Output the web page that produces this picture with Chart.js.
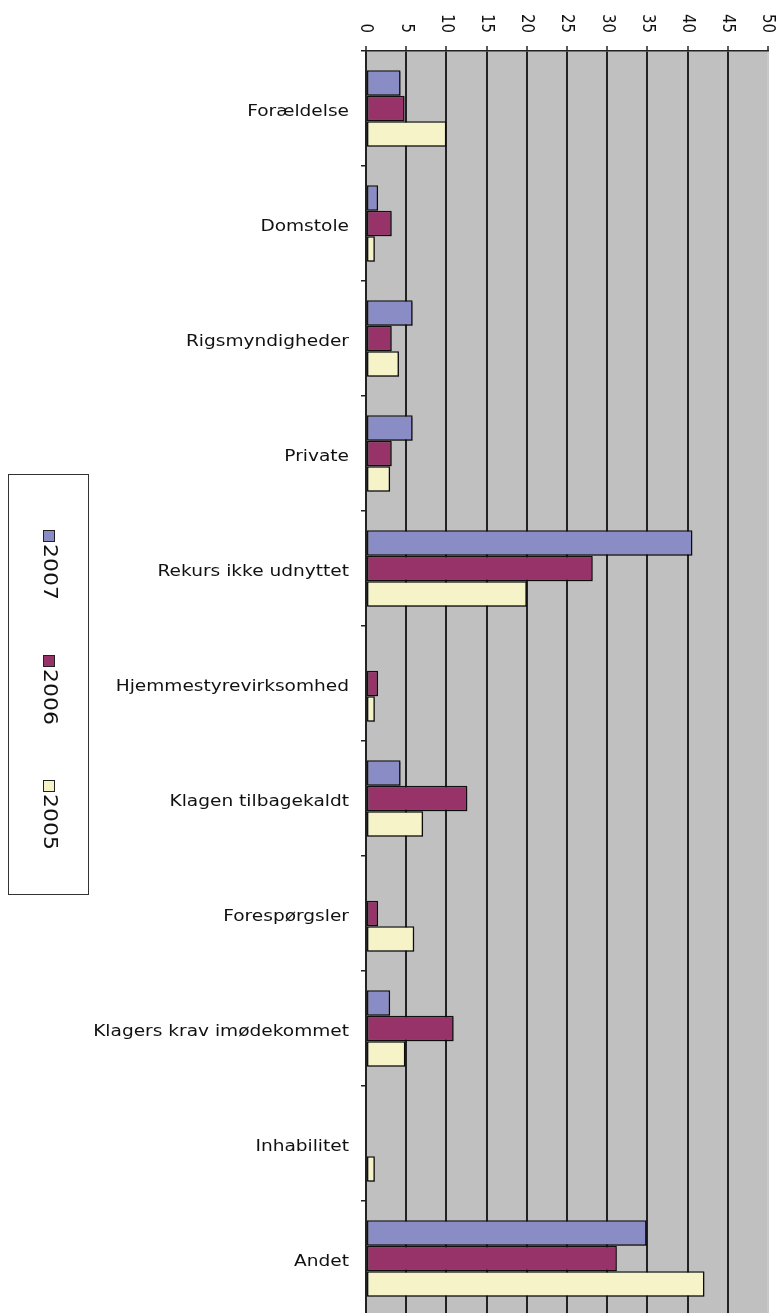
<!DOCTYPE html>
<html>
<head>
<meta charset="utf-8">
<script src="https://cdn.jsdelivr.net/npm/chart.js@4"></script>
<style>
  html, body { margin: 0; padding: 0; background: #fff; overflow: hidden; }
</style>
</head>
<body>
<canvas id="chart" width="779" height="1316"></canvas>
<script>
const categories = ['Forældelse', 'Domstole', 'Rigsmyndigheder', 'Private', 'Rekurs ikke udnyttet',
  'Hjemmestyrevirksomhed', 'Klagen tilbagekaldt', 'Forespørgsler', 'Klagers krav imødekommet',
  'Inhabilitet', 'Andet'];
const years = ['2007', '2006', '2005'];
const values2007 = [4.3, 1.5, 5.8, 5.8, 40.6, 0, 4.3, 0, 3.0, 0, 34.9];
const values2006 = [4.8, 3.2, 3.2, 3.2, 28.2, 1.5, 12.6, 1.5, 10.9, 0, 31.2];
const values2005 = [10.0, 1.1, 4.1, 3.0, 20.0, 1.1, 7.1, 6.0, 4.9, 1.1, 42.1];
const colors = ['#8a8cc6', '#98336a', '#f6f3c8'];

// stretched text like the original image
const STRETCH = 1.16;

// grey plot area
const plotBackground = {
  id: 'plotBackground',
  beforeDraw(chart) {
    const { ctx, chartArea } = chart;
    ctx.save();
    ctx.fillStyle = '#c0c0c0';
    ctx.fillRect(chartArea.left, chartArea.top, chartArea.right - chartArea.left, chartArea.bottom - chartArea.top);
    ctx.restore();
  }
};

// small drop shadow under the bars
const barShadow = {
  id: 'barShadow',
  beforeDatasetDraw(chart) {
    const ctx = chart.ctx;
    ctx.save();
    ctx.shadowColor = 'rgba(0,0,0,0.3)';
    ctx.shadowOffsetX = 1.5;
    ctx.shadowOffsetY = 1.5;
    ctx.shadowBlur = 1;
  },
  afterDatasetDraw(chart) {
    chart.ctx.restore();
  }
};

// labels drawn by hand: value ticks turned clockwise, categories stretched, legend turned
const labels = {
  id: 'labels',
  afterDraw(chart) {
    const ctx = chart.ctx;
    const xs = chart.scales.x;
    const ys = chart.scales.y;
    ctx.save();
    ctx.fillStyle = '#111';

    // value ticks
    ctx.font = '15px "DejaVu Sans"';
    ctx.textAlign = 'right';
    ctx.textBaseline = 'middle';
    xs.ticks.forEach(t => {
      const px = xs.getPixelForValue(t.value);
      ctx.save();
      ctx.translate(px, 33);
      ctx.rotate(Math.PI / 2);
      ctx.scale(1, STRETCH);
      ctx.fillText(String(t.value), 0, 0);
      ctx.restore();
    });

    // category labels
    ctx.font = '16px "DejaVu Sans"';
    ctx.textAlign = 'right';
    ctx.textBaseline = 'middle';
    categories.forEach((c, i) => {
      const py = ys.getPixelForValue(i);
      ctx.save();
      ctx.translate(349, py + 3);
      ctx.scale(STRETCH, 1);
      ctx.fillText(c, 0, 0);
      ctx.restore();
    });

    // legend box
    ctx.fillStyle = '#fff';
    ctx.fillRect(8.5, 474.5, 80, 420);
    ctx.strokeStyle = '#333';
    ctx.lineWidth = 1;
    ctx.strokeRect(8.5, 474.5, 80, 420);
    ctx.font = '20px "DejaVu Sans"';
    ctx.textAlign = 'left';
    ctx.textBaseline = 'middle';
    years.forEach((y, i) => {
      const top = 530 + i * 125;
      ctx.fillStyle = colors[i];
      ctx.fillRect(43.5, top + 0.5, 11, 11);
      ctx.strokeStyle = '#222';
      ctx.strokeRect(43.5, top + 0.5, 11, 11);
      ctx.save();
      ctx.fillStyle = '#111';
      ctx.translate(49, top + 14);
      ctx.rotate(Math.PI / 2);
      ctx.scale(1.1, 1);
      ctx.fillText(y, 0, 0);
      ctx.restore();
    });
    ctx.restore();
  }
};

const datasetValues = [values2007, values2006, values2005];

new Chart(document.getElementById('chart'), {
  type: 'bar',
  data: {
    labels: categories,
    datasets: years.map((y, i) => ({
      label: y,
      data: datasetValues[i],
      backgroundColor: colors[i],
      borderColor: '#111',
      borderWidth: 1.5,
      borderSkipped: false,
      categoryPercentage: 0.665,
      barPercentage: 1.0
    }))
  },
  options: {
    indexAxis: 'y',
    responsive: false,
    animation: false,
    layout: { padding: { left: 0, right: 11, top: 0, bottom: 0 } },
    plugins: {
      legend: { display: false },
      tooltip: { enabled: false }
    },
    scales: {
      x: {
        position: 'top',
        min: 0,
        max: 50,
        ticks: { stepSize: 5, display: false },
        grid: {
          color: c => (c.tick && c.tick.value === 50) ? '#c8c8c8' : '#222',
          lineWidth: 2,
          tickLength: 5,
          tickColor: '#222',
          tickWidth: 1.5
        },
        border: { color: '#222', width: 1.5 },
        afterFit(scale) { scale.height = 51; }
      },
      y: {
        ticks: { display: false },
        grid: {
          offset: true,
          drawOnChartArea: false,
          tickLength: 5,
          color: '#222',
          lineWidth: 1.5
        },
        border: { color: '#222', width: 1.5 },
        afterFit(scale) { scale.width = 366; }
      }
    }
  },
  plugins: [plotBackground, barShadow, labels]
});
</script>
</body>
</html>
